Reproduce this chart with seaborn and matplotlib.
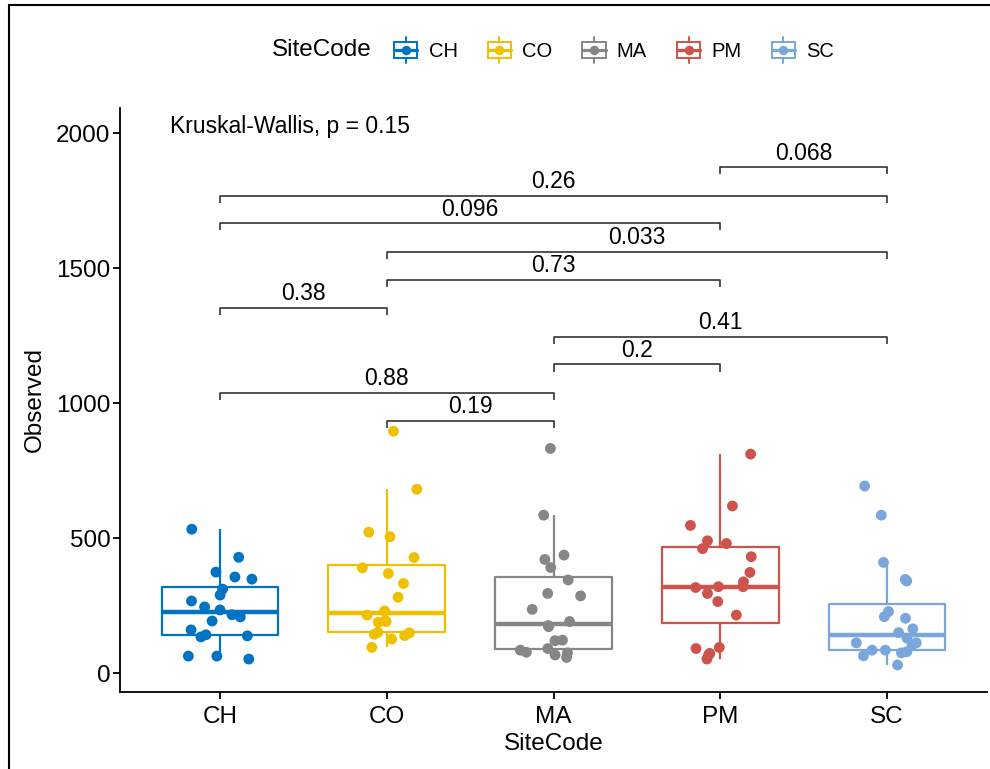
import numpy as np
import pandas as pd
import matplotlib
matplotlib.use("Agg")
import matplotlib.pyplot as plt
import seaborn as sns
from matplotlib.lines import Line2D
from matplotlib.patches import Rectangle
from matplotlib.legend_handler import HandlerBase

# ---------------- data ----------------
sites = ["CH", "CO", "MA", "PM", "SC"]
colors = ["#0073C2", "#EFC000", "#868686", "#CD534C", "#7AA6DC"]

obs_ch = [533, 429, 374, 356, 348, 311, 289, 267, 245, 234, 216, 208, 193, 160, 142, 138, 134, 63, 52, 63]
obs_co = [896, 681, 522, 505, 428, 390, 369, 332, 281, 230, 215, 191, 188, 194, 151, 149, 139, 144, 126, 95]
obs_ma = [832, 585, 437, 421, 391, 345, 295, 286, 236, 191, 176, 172, 122, 120, 91, 85, 77, 75, 67, 58]
obs_pm = [811, 619, 547, 490, 480, 461, 431, 373, 338, 320, 320, 317, 295, 265, 215, 95, 91, 73, 67, 52]
obs_sc = [693, 585, 410, 347, 341, 228, 209, 203, 164, 150, 129, 112, 112, 104, 85, 85, 79, 75, 64, 30]

pair_left = ["PM", "CH", "CH", "CO", "CO", "CH", "MA", "MA", "CH", "CO"]
pair_right = ["SC", "SC", "PM", "SC", "PM", "CO", "SC", "PM", "MA", "MA"]
p_labels = ["0.068", "0.26", "0.096", "0.033", "0.73", "0.38", "0.41", "0.2", "0.88", "0.19"]
bracket_y = [1873, 1768, 1666, 1560, 1456, 1353, 1246, 1143, 1038, 934]
global_label = "Kruskal-Wallis, p = 0.15"

all_obs = [obs_ch, obs_co, obs_ma, obs_pm, obs_sc]
df = pd.DataFrame({
    "SiteCode": np.repeat(sites, [len(v) for v in all_obs]),
    "Observed": np.concatenate(all_obs),
})

# ---------------- style ----------------
sns.set_theme(style="ticks")
plt.rcParams["font.family"] = ["Liberation Sans", "DejaVu Sans"]
plt.rcParams["text.color"] = "black"

fig = plt.figure(figsize=(9.9, 7.69), dpi=100)
ax = fig.add_axes([120 / 990, 1 - 692 / 769, (987 - 120) / 990, (692 - 108) / 769])

sns.boxplot(data=df, x="SiteCode", y="Observed", hue="SiteCode",
            order=sites, hue_order=sites, palette=colors, fill=False,
            width=0.7, showfliers=False, showcaps=False, linewidth=1.6,
            whis=1.5, legend=False, ax=ax,
            medianprops=dict(linewidth=3.2))

np.random.seed(7)
sns.stripplot(data=df, x="SiteCode", y="Observed", hue="SiteCode",
              order=sites, hue_order=sites, palette=colors, jitter=0.2,
              size=7.8, linewidth=0, legend=False, ax=ax, zorder=3)

ax.set_xlim(-0.6, 4.6)
ax.set_ylim(-70, 2093)
ax.set_yticks([0, 500, 1000, 1500, 2000])
sns.despine(ax=ax)
for s in ["left", "bottom"]:
    ax.spines[s].set_linewidth(1.3)
    ax.spines[s].set_color("black")
ax.tick_params(axis="both", length=5, width=1.3, color="black",
               labelsize=17.5, labelcolor="black")
ax.tick_params(axis="x", pad=5)
ax.tick_params(axis="y", pad=2)
ax.set_xlabel("SiteCode", fontsize=17.5, color="black", labelpad=4)
ax.set_ylabel("Observed", fontsize=17.5, color="black", labelpad=7)

# ---------------- brackets ----------------
tick_len = 26
for a, b, lab, yv in zip(pair_left, pair_right, p_labels, bracket_y):
    x1, x2 = sites.index(a), sites.index(b)
    ax.plot([x1, x1, x2, x2], [yv - tick_len, yv, yv, yv - tick_len],
            color="#333333", lw=1.2, solid_capstyle="butt")
    ax.annotate(lab, xy=((x1 + x2) / 2, yv), xytext=(0, 2),
                textcoords="offset points", ha="center", va="bottom",
                fontsize=16.5)

ax.text(-0.3, 2026, global_label, ha="left", va="center", fontsize=16.5)

# ---------------- legend ----------------
class BoxKeyHandler(HandlerBase):
    def create_artists(self, legend, orig_handle, xdescent, ydescent,
                       width, height, fontsize, trans):
        c = orig_handle.get_color()
        x0, y0 = -xdescent, -ydescent
        cx, cy = x0 + width / 2, y0 + height / 2
        bh = height * 0.58
        rect = Rectangle((x0, cy - bh / 2), width, bh, facecolor="white",
                         edgecolor=c, lw=1.4, transform=trans)
        med = Line2D([x0, x0 + width], [cy, cy], color=c, lw=2.3, transform=trans)
        w1 = Line2D([cx, cx], [cy + bh / 2, y0 + height], color=c, lw=1.4, transform=trans)
        w2 = Line2D([cx, cx], [y0, cy - bh / 2], color=c, lw=1.4, transform=trans)
        dot = Line2D([cx], [cy], marker="o", ms=6.8, color=c, lw=0,
                     markeredgewidth=0, transform=trans)
        return [rect, med, w1, w2, dot]

handles = [Line2D([], [], color=c) for c in colors]
fig.legend(handles, sites, handler_map={Line2D: BoxKeyHandler()}, ncol=5,
           loc="center", bbox_to_anchor=(614 / 990, 1 - 50 / 769),
           frameon=False, fontsize=14.5, handlelength=1.15, handleheight=1.6,
           handletextpad=0.55, columnspacing=1.5)
fig.text(272 / 990, 1 - 50 / 769, "SiteCode", fontsize=17.5,
         ha="left", va="center")

# ---------------- border ----------------
fig.add_artist(Line2D([9 / 990, 9 / 990], [0, 1 - 5 / 769], transform=fig.transFigure,
                      color="black", lw=1.5))
fig.add_artist(Line2D([9 / 990, 1], [1 - 5 / 769, 1 - 5 / 769], transform=fig.transFigure,
                      color="black", lw=1.5))

fig.savefig("out.png", dpi=100, facecolor="white")
